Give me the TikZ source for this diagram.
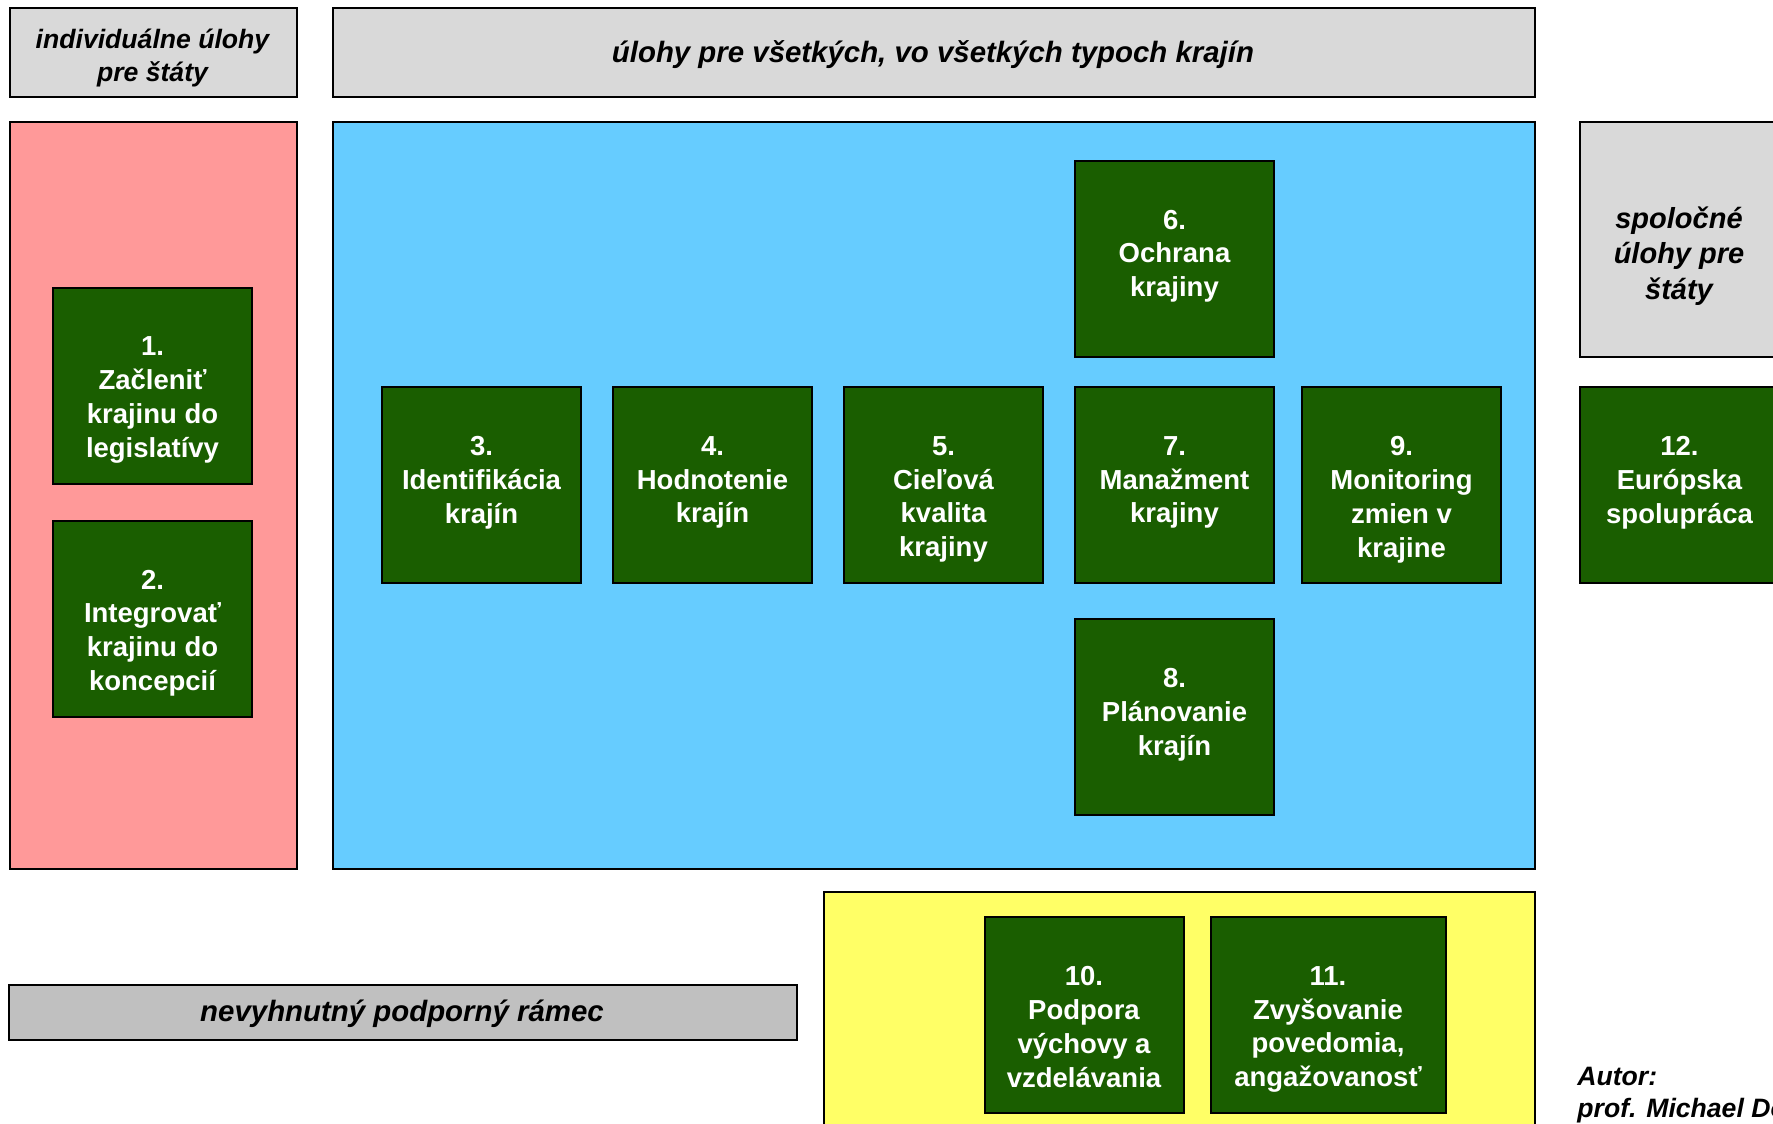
\documentclass[tikz,border=0pt]{standalone}
\usepackage{fontspec}
\setmainfont{Liberation Sans}
\usetikzlibrary{positioning}
\definecolor{zelena}{RGB}{26,94,0}
\definecolor{ruzova}{RGB}{255,153,153}
\definecolor{modra}{RGB}{102,204,255}
\definecolor{zlta}{RGB}{255,255,102}
\definecolor{svetlosiva}{RGB}{217,217,217}
\definecolor{tmavosiva}{RGB}{192,192,192}
\tikzset{
  oblast/.style={draw=black, line width=0.8pt, anchor=north west, inner sep=0pt},
  nadpis/.style={align=center, inner sep=0pt, font=\fontsize{13.3}{16.4}\selectfont\bfseries\itshape},
  uloha/.style={draw=black, line width=1pt, fill=zelena, minimum width=99.5pt, minimum height=98pt, inner sep=0pt},
  ulohatext/.style={text=white, align=center, inner sep=0pt, font=\fontsize{13.75}{16.9}\selectfont\bfseries},
}

\begin{document}
\begin{tikzpicture}[x=0.5pt, y=-0.5pt, node distance=15pt]
        \useasboundingbox (0,0) rectangle (1773,1124);
        \clip (0,0) rectangle (1773,1124);

        % hlavicky
        \node[oblast, fill=svetlosiva, minimum width=143.5pt, minimum height=44.5pt] (individualne) at (9,7) {};
        \node[nadpis] (individualnet) at (152.5,58) {individuálne úlohy\\pre štáty};
        \node[oblast, fill=svetlosiva, minimum width=601pt, minimum height=44.5pt] (vsetky) at (332,7) {};
        \node[nadpis, font=\fontsize{14.7}{18}\selectfont\bfseries\itshape] (vsetkyt) at (933,55) {úlohy pre všetkých, vo všetkých typoch krajín};
        \node[oblast, fill=svetlosiva, minimum width=100pt, minimum height=117.5pt] (spolocne) at (1579,121) {};
        \node[nadpis, font=\fontsize{14.5}{17.8}\selectfont\bfseries\itshape] (spolocnet) at (1679,256) {spoločné\\úlohy pre\\štáty};

        % oblasti
        \node[oblast, fill=ruzova, minimum width=143.5pt, minimum height=373.5pt] (ruzova) at (9,121) {};
        \node[oblast, fill=modra, minimum width=601pt, minimum height=373.5pt] (modra) at (332,121) {};
        \node[oblast, fill=zlta, minimum width=355.5pt, minimum height=125pt] (zlta) at (823,891) {};
        \node[oblast, fill=tmavosiva, minimum width=394pt, minimum height=27.5pt] (ramec) at (8,984) {};
        \node[nadpis, font=\fontsize{14.7}{18}\selectfont\bfseries\itshape] (ramect) at (402,1014) {nevyhnutný podporný rámec};

        % individualne ulohy
        \node[uloha] (u1) at (152.5,385.5) {};
        \node[uloha, below=17.5pt of u1] (u2) {};

        % ulohy pre vsetkych
        \node[uloha] (u3) at (481.5,485) {};
        \node[uloha, right=of u3] (u4) {};
        \node[uloha, right=of u4] (u5) {};
        \node[uloha, right=of u5] (u7) {};
        \node[uloha, right=13pt of u7] (u9) {};
        \node[uloha, above=14.25pt of u7] (u6) {};
        \node[uloha, below=17pt of u7] (u8) {};

        % spolocne ulohy
        \node[uloha] (u12) at (1679.5,485) {};

        % podporny ramec
        \node[uloha] (u10) at (1084,1015) {};
        \node[uloha, minimum width=117.5pt, right=12.5pt of u10] (u11) {};

        % texty uloh
        \node[ulohatext, below=25pt of u1.north] (u1t) {1.\\Začleniť\\krajinu do\\legislatívy};
        \node[ulohatext, below=25pt of u2.north] (u2t) {2.\\Integrovať\\krajinu do\\koncepcií};
        \node[ulohatext, below=25pt of u3.north] (u3t) {3.\\Identifikácia\\krajín};
        \node[ulohatext, below=25pt of u4.north] (u4t) {4.\\Hodnotenie\\krajín};
        \node[ulohatext, below=25pt of u5.north] (u5t) {5.\\Cieľová\\kvalita\\krajiny};
        \node[ulohatext, below=25pt of u6.north] (u6t) {6.\\Ochrana\\krajiny};
        \node[ulohatext, below=25pt of u7.north] (u7t) {7.\\Manažment\\krajiny};
        \node[ulohatext, below=25pt of u8.north] (u8t) {8.\\Plánovanie\\krajín};
        \node[ulohatext, below=25pt of u9.north] (u9t) {9.\\Monitoring\\zmien v\\krajine};
        \node[ulohatext, below=25pt of u10.north] (u10t) {10.\\Podpora\\výchovy a\\vzdelávania};
        \node[ulohatext, below=25pt of u11.north] (u11t) {11.\\Zvyšovanie\\povedomia,\\angažovanosť};
        \node[ulohatext, below=25pt of u12.north] (u12t) {12.\\Európska\\spolupráca};

        % autor
        \node[anchor=north west, align=left, inner sep=0pt, font=\fontsize{13.3}{16}\selectfont\bfseries\itshape] (autor) at (1577,1067) {Autor:\\prof. Michael Dower};
    \end{tikzpicture}
\end{document}
